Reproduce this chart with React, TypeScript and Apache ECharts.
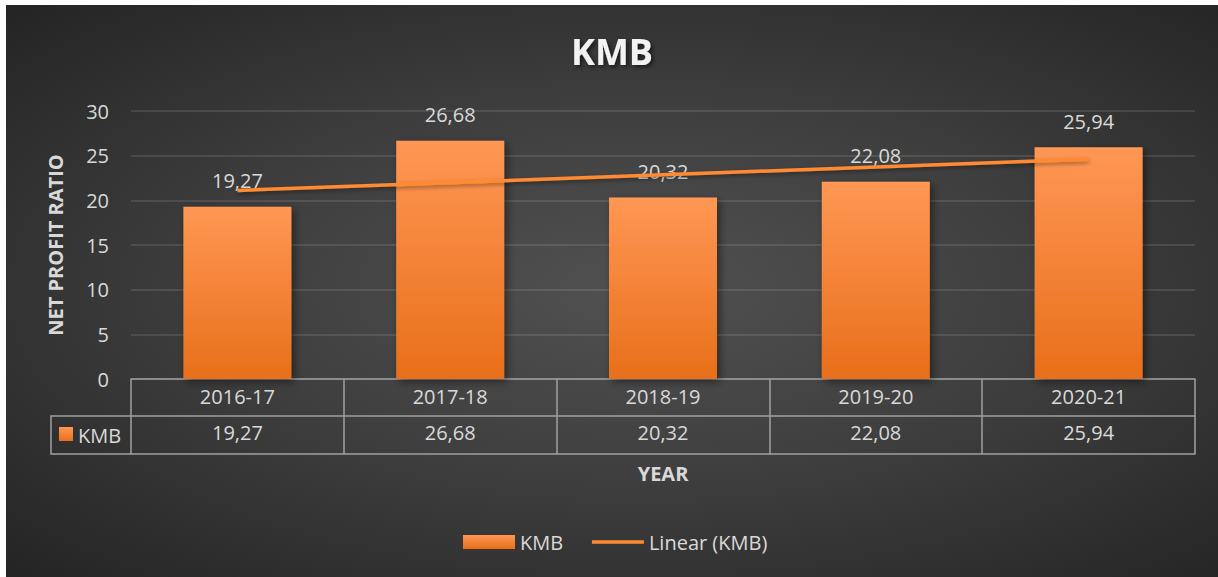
import React, { useEffect, useRef } from "react";
import * as echarts from "echarts";

const titleText = "KMB";
const categories = ["2016-17", "2017-18", "2018-19", "2019-20", "2020-21"];
const kmbValues = [19.27, 26.68, 20.32, 22.08, 25.94];
// Excel linear trendline endpoints (first and last category)
const trendPoints: [number, number][] = [
  [0, 21.11],
  [4, 24.61],
];
const yMin = 0;
const yMax = 30;
const yInterval = 5;
const yAxisName = "NET PROFIT RATIO";
const xAxisName = "YEAR";
const seriesName = "KMB";
const trendName = "Linear (KMB)";

const fmt = (v: number) => v.toFixed(2).replace(".", ",");

const FONT = "'Open Sans', 'Noto Sans', sans-serif";
const TEXT = "#d9d9d9";
const TABLE_LINE = "#a0a0a0";
const TREND_COLOR = "#ff8a33";

export default function App() {
  const ref = useRef<HTMLDivElement>(null);

  useEffect(() => {
    if (!ref.current) return;
    const chart = echarts.init(ref.current, undefined, { renderer: "svg" });

    const barGradient = new echarts.graphic.LinearGradient(0, 0, 0, 1, [
      { offset: 0, color: "#ff9754" },
      { offset: 1, color: "#e86f1a" },
    ]);

    const tableAxisBase = {
      type: "category" as const,
      position: "bottom" as const,
      data: categories,
      axisLine: { show: true, lineStyle: { color: TABLE_LINE, width: 1.5 } },
      axisTick: { show: false },
      splitLine: { show: false },
    };

    chart.setOption({
      animation: false,
      textStyle: { fontFamily: FONT },
      title: {
        text: titleText,
        left: "center",
        top: 23,
        textStyle: {
          color: "#f2f2f2",
          fontSize: 36,
          fontWeight: "bold",
          fontFamily: FONT,
          textShadowColor: "rgba(0,0,0,0.6)",
          textShadowBlur: 4,
          textShadowOffsetX: 2,
          textShadowOffsetY: 2,
        },
      },
      grid: { left: 125, right: 23, top: 106, bottom: 198 },
      legend: {
        left: 452,
        top: 522,
        itemWidth: 52,
        itemHeight: 14,
        itemGap: 27,
        textStyle: { color: TEXT, fontSize: 20, fontFamily: FONT },
        data: [
          { name: seriesName, icon: "rect" },
          {
            name: trendName,
            itemStyle: { opacity: 0 },
            lineStyle: { color: TREND_COLOR, width: 3.5 },
          },
        ],
      },
      xAxis: [
        {
          ...tableAxisBase,
          axisTick: {
            show: true,
            inside: false,
            length: 75,
            interval: 0,
            lineStyle: { color: TABLE_LINE, width: 1.5 },
          },
          axisLabel: {
            color: TEXT,
            fontSize: 20,
            fontFamily: FONT,
            margin: 7,
            interval: 0,
          },
          name: xAxisName,
          nameLocation: "middle",
          nameGap: 84,
          nameTextStyle: {
            color: TEXT,
            fontSize: 20,
            fontWeight: "bold",
            fontFamily: FONT,
          },
        },
        {
          ...tableAxisBase,
          offset: 37,
          data: kmbValues.map(fmt),
          axisLabel: {
            color: TEXT,
            fontSize: 20,
            fontFamily: FONT,
            margin: 6,
            interval: 0,
          },
        },
        {
          ...tableAxisBase,
          offset: 75,
          axisLabel: { show: false },
        },
      ],
      yAxis: {
        type: "value",
        min: yMin,
        max: yMax,
        interval: yInterval,
        axisLine: { show: false },
        axisTick: { show: false },
        axisLabel: { color: TEXT, fontSize: 20, fontFamily: FONT, margin: 22 },
        splitLine: { lineStyle: { color: "rgba(255,255,255,0.14)", width: 1.5 } },
        name: yAxisName,
        nameLocation: "middle",
        nameRotate: 90,
        nameGap: 66,
        nameTextStyle: {
          color: TEXT,
          fontSize: 20,
          fontWeight: "bold",
          fontFamily: FONT,
        },
      },
      series: [
        {
          name: seriesName,
          type: "bar",
          xAxisIndex: 0,
          data: kmbValues,
          barWidth: 108,
          itemStyle: {
            color: barGradient,
            shadowColor: "rgba(0,0,0,0.45)",
            shadowBlur: 8,
            shadowOffsetX: 3,
            shadowOffsetY: 3,
          },
          label: {
            show: true,
            position: "top",
            distance: 16,
            color: TEXT,
            fontSize: 20,
            fontFamily: FONT,
            formatter: (p: any) => fmt(p.value),
          },
        },
        {
          name: trendName,
          type: "line",
          xAxisIndex: 0,
          data: trendPoints,
          symbol: "none",
          z: 5,
          lineStyle: {
            color: TREND_COLOR,
            width: 3.5,
            shadowColor: "rgba(0,0,0,0.4)",
            shadowBlur: 4,
            shadowOffsetY: 2,
          },
          itemStyle: { color: TREND_COLOR },
        },
      ],
      graphic: [
        {
          type: "polyline",
          shape: {
            points: [
              [125, 411],
              [45, 411],
              [45, 449],
              [125, 449],
            ],
          },
          style: { stroke: TABLE_LINE, lineWidth: 1.5, fill: null },
        },
        {
          type: "rect",
          shape: { x: 53, y: 422, width: 14, height: 14 },
          style: { fill: barGradient },
        },
        {
          type: "text",
          x: 72,
          y: 430,
          style: {
            text: seriesName,
            fill: TEXT,
            fontSize: 20,
            fontFamily: FONT,
            verticalAlign: "middle",
          },
        },
      ],
    });

    return () => chart.dispose();
  }, []);

  return (
    <div
      ref={ref}
      style={{
        position: "absolute",
        left: 6,
        top: 5,
        width: 1212,
        height: 572,
        background:
          "radial-gradient(ellipse at 52% 50%, #515151 0%, #3f3f3f 45%, #242424 100%)",
      }}
    />
  );
}
